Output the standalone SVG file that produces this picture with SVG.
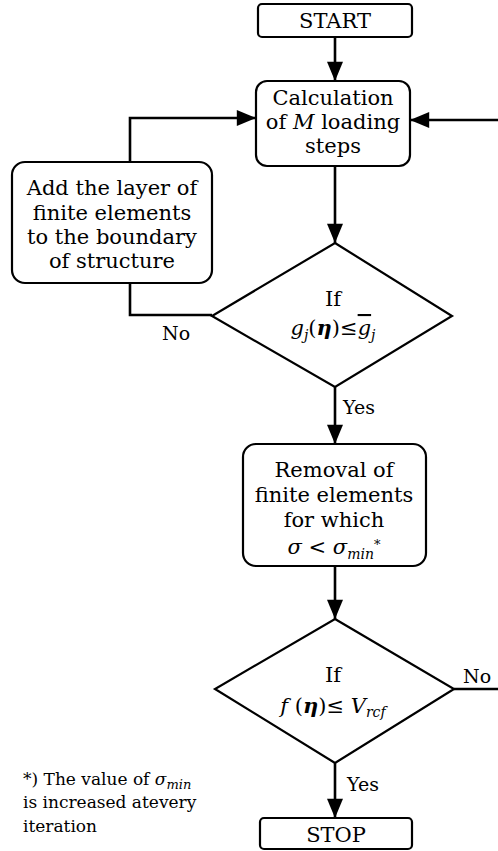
<svg xmlns="http://www.w3.org/2000/svg" width="498" height="851" viewBox="0 0 498 851">
<defs>
<style>
.box{fill:#fff;stroke:#000;stroke-width:2.2}
.t{font-family:'DejaVu Serif',serif;font-size:21px;fill:#000;text-anchor:middle}
.lab{font-family:'DejaVu Serif',serif;font-size:19px;fill:#000}
.note{font-family:'DejaVu Serif',serif;font-size:17px;fill:#000}
.i{font-style:italic}
.b{font-weight:bold;font-style:italic}
.ln{fill:none;stroke:#000;stroke-width:2.6}
</style>
<marker id="ah" markerUnits="userSpaceOnUse" markerWidth="20" markerHeight="16" viewBox="0 0 18 15" refX="18" refY="7.5" orient="auto">
<path d="M0,0 L18,7.5 L0,15 z" fill="#000"/>
</marker>
</defs>
<g id="connectors">
<line class="ln" x1="335" y1="37" x2="335" y2="81" marker-end="url(#ah)"/>
<line class="ln" x1="498" y1="120" x2="410" y2="120" marker-end="url(#ah)"/>
<polyline class="ln" points="130,162 130,118 256,118" marker-end="url(#ah)"/>
<line class="ln" x1="335" y1="166" x2="335" y2="243" marker-end="url(#ah)"/>
<polyline class="ln" points="130,283 130,315 212,315"/>
<line class="ln" x1="335" y1="387" x2="335" y2="444" marker-end="url(#ah)"/>
<line class="ln" x1="335" y1="566" x2="335" y2="619" marker-end="url(#ah)"/>
<line class="ln" x1="454" y1="689" x2="498" y2="689"/>
<line class="ln" x1="335" y1="763" x2="335" y2="818" marker-end="url(#ah)"/>
<text class="lab" x="162" y="340">No</text>
<text class="lab" x="343" y="414">Yes</text>
<text class="lab" x="463" y="683">No</text>
<text class="lab" x="347" y="791">Yes</text>
</g>
<g id="start">
<rect class="box" x="258" y="4" width="154" height="33" rx="4"/>
<text class="t" x="335" y="28">START</text>
</g>
<g id="calc">
<rect class="box" x="256" y="81" width="154" height="85" rx="11"/>
<text class="t" x="333" y="105">Calculation</text>
<text class="t" x="333" y="129">of <tspan class="i">M</tspan> loading</text>
<text class="t" x="333" y="153">steps</text>
</g>
<g id="add">
<rect class="box" x="12" y="162" width="200" height="121" rx="13"/>
<text class="t" x="112" y="195" font-size="21.5">Add the layer of</text>
<text class="t" x="112" y="220" font-size="21.5">finite elements</text>
<text class="t" x="112" y="244" font-size="21.5">to the boundary</text>
<text class="t" x="112" y="268" font-size="21.5">of structure</text>
</g>
<g id="cond1">
<polygon class="box" points="335,243 452,316 335,387 212,316"/>
<text class="t" x="333" y="306">If</text>
<text class="t" x="333" y="335"><tspan class="i">g</tspan><tspan class="i" font-size="14" dy="5">j</tspan><tspan dy="-5">(</tspan><tspan class="b">η</tspan><tspan>)≤</tspan><tspan class="i" text-decoration="overline">g</tspan><tspan class="i" font-size="14" dy="5">j</tspan></text>
</g>
<g id="removal">
<rect class="box" x="243" y="444" width="183" height="122" rx="13"/>
<text class="t" x="334" y="477">Removal of</text>
<text class="t" x="334" y="502">finite elements</text>
<text class="t" x="334" y="527">for which</text>
<text class="t" x="334" y="554"><tspan class="i">σ</tspan> &lt; <tspan class="i">σ</tspan><tspan class="i" font-size="14" dy="5">min</tspan><tspan font-size="13" dy="-10">*</tspan></text>
</g>
<g id="cond2">
<polygon class="box" points="335,619 454,689 335,763 215,689"/>
<text class="t" x="333" y="682">If</text>
<text class="t" x="333" y="713"><tspan class="i">f</tspan> (<tspan class="b">η</tspan>)≤ <tspan class="i">V</tspan><tspan class="i" font-size="14" dy="4">rcf</tspan></text>
</g>
<g id="stop">
<rect class="box" x="260" y="818" width="152" height="31" rx="4"/>
<text class="t" x="336" y="842">STOP</text>
</g>
<g id="note">
<text class="note" x="23" y="785">*) The value of <tspan class="i">σ</tspan><tspan class="i" font-size="13" dy="4">min</tspan></text>
<text class="note" x="23" y="808">is increased atevery</text>
<text class="note" x="23" y="832">iteration</text>
</g>
</svg>
